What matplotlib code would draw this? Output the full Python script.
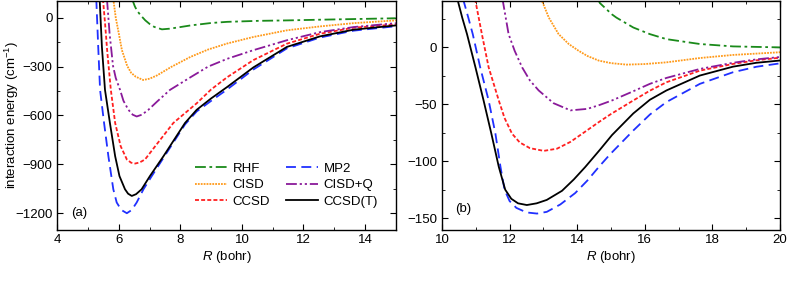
#!/usr/bin/env python3
# -*- coding: utf-8 -*-
"""
Potential energy curves: interaction energy vs R for several methods
(a) short range, (b) long range
"""

import matplotlib
matplotlib.use('Agg')
import matplotlib.pyplot as plt
from matplotlib.ticker import MultipleLocator

plt.rcParams['font.family'] = ['Liberation Sans', 'DejaVu Sans']
plt.rcParams['mathtext.fontset'] = 'custom'
plt.rcParams['mathtext.it'] = 'Liberation Sans:italic'
plt.rcParams['mathtext.rm'] = 'Liberation Sans'
plt.rcParams['font.size'] = 9.5

# ---- panel (a) data: R (bohr), energy (cm^-1) ----
a_rhf_r = [6.40, 6.46, 6.52, 6.59, 6.70, 6.86, 7.00, 7.15, 7.40, 7.65, 7.90, 8.33, 9.00, 9.52, 10.5, 11.5, 12.5, 13.6, 15.0]
a_rhf_e = [140, 100, 70, 44, 17, -16, -38, -56, -71, -67, -60, -47, -32, -25, -19, -16, -12, -8, -3]

a_mp2_r = [5.22, 5.27, 5.33, 5.39, 5.52, 5.66, 5.82, 5.93, 6.08, 6.26, 6.42, 6.58, 6.80, 7.07, 7.45, 8.15, 8.53, 9.00, 9.52, 10.37, 11.46, 12.54, 13.63, 15.0]
a_mp2_e = [200, 100, -180, -443, -646, -850, -1053, -1134, -1180, -1200, -1180, -1134, -1053, -972, -860, -655, -575, -510, -440, -318, -188, -121, -79, -52]

a_cisd_r = [5.80, 5.83, 5.90, 6.00, 6.10, 6.27, 6.40, 6.55, 6.79, 7.00, 7.24, 7.70, 8.33, 8.90, 9.52, 10.37, 11.46, 12.54, 13.63, 15.0]
a_cisd_e = [200, 100, 0, -98, -199, -295, -338, -362, -382, -374, -354, -302, -240, -195, -158, -118, -77, -53, -33, -16]

a_cisdq_r = [5.58, 5.62, 5.70, 5.81, 5.90, 6.04, 6.15, 6.31, 6.45, 6.58, 6.75, 6.96, 7.24, 7.66, 8.33, 8.90, 9.52, 10.37, 11.46, 12.54, 13.63, 15.0]
a_cisdq_e = [200, 100, -98, -295, -370, -443, -510, -565, -595, -606, -595, -565, -515, -443, -365, -300, -252, -199, -138, -88, -57, -33]

a_ccsd_r = [5.45, 5.49, 5.55, 5.62, 5.74, 5.88, 6.06, 6.26, 6.40, 6.53, 6.68, 6.85, 7.18, 7.77, 8.53, 9.00, 9.52, 10.37, 11.46, 12.54, 13.63, 15.0]
a_ccsd_e = [200, 100, -30, -200, -443, -646, -789, -870, -890, -895, -888, -870, -789, -646, -525, -440, -365, -260, -159, -98, -61, -41]

a_ccsdt_r = [5.34, 5.38, 5.45, 5.55, 5.71, 5.88, 6.02, 6.20, 6.30, 6.42, 6.56, 6.74, 7.01, 7.45, 8.15, 8.53, 9.00, 9.52, 10.37, 11.46, 12.54, 13.63, 15.0]
a_ccsdt_e = [200, 100, -180, -443, -646, -850, -972, -1053, -1080, -1094, -1083, -1053, -972, -850, -646, -565, -495, -425, -305, -179, -114, -73, -47]

# ---- panel (b) data ----
b_rhf_r = [14.50, 14.67, 15.03, 15.16, 15.66, 16.15, 16.64, 17.63, 18.61, 19.90, 20.0]
b_rhf_e = [50, 39, 29, 26.2, 17.5, 11.7, 7.3, 3.0, 0.9, 0.1, 0.0]

b_mp2_r = [10.58, 10.64, 10.78, 10.91, 11.13, 11.38, 11.58, 11.73, 11.85, 12.00, 12.20, 12.50, 12.81, 13.10, 13.50, 13.94, 14.30, 14.64, 14.97, 15.66, 16.15, 16.64, 17.63, 18.61, 19.30, 20.0]
b_mp2_e = [60, 40.8, 26, 11.7, -17.5, -46.6, -75.7, -104.9, -125, -135, -141, -145, -146, -144.5, -138, -128, -117, -105, -94, -73, -59, -48, -32, -21.8, -17, -14]

b_cisd_r = [12.85, 12.96, 13.16, 13.45, 13.75, 14.04, 14.30, 14.64, 15.00, 15.46, 16.00, 16.64, 17.63, 18.61, 19.90, 20.0]
b_cisd_e = [50, 40.8, 26.2, 11.7, 3.0, -2.9, -7.5, -11.6, -13.8, -15.1, -14.6, -13.1, -9.3, -6.6, -4.4, -4.2]

b_cisdq_r = [11.72, 11.80, 11.97, 12.15, 12.37, 12.60, 12.86, 13.30, 13.80, 14.30, 14.67, 15.03, 15.66, 16.15, 16.64, 17.63, 18.61, 19.30, 20.0]
b_cisdq_e = [60, 40.8, 11.7, -3, -17.5, -29, -37.8, -49, -55.3, -54, -50.5, -46.6, -38.5, -32, -26.8, -18.9, -13.5, -10.5, -8.4]

b_ccsd_r = [10.92, 10.99, 11.18, 11.38, 11.68, 11.85, 12.07, 12.30, 12.60, 13.01, 13.40, 13.80, 14.14, 14.67, 15.00, 15.66, 16.15, 16.64, 17.63, 18.61, 19.30, 20.0]
b_ccsd_e = [60, 40.8, 11.7, -17.5, -46.6, -62, -75.7, -83.5, -88.5, -90.9, -89, -83, -76, -65, -58.5, -46.6, -38, -30.6, -20.4, -14.5, -11.3, -9.0]

b_ccsdt_r = [10.40, 10.47, 10.60, 10.74, 10.99, 11.23, 11.46, 11.68, 11.87, 12.05, 12.25, 12.51, 12.80, 13.10, 13.55, 13.90, 14.24, 14.67, 15.03, 15.66, 16.15, 16.64, 17.63, 18.61, 19.30, 20.0]
b_ccsdt_e = [60, 40.8, 26, 11.7, -17.5, -46.6, -75.7, -104.9, -125, -133, -137, -138.5, -137, -134, -126, -116, -105, -90, -77, -58, -46, -37.8, -24.7, -16.9, -13.5, -11.5]

# 图例顺序: 两列, 按列填充
methods = ['RHF', 'CISD', 'CCSD', 'MP2', 'CISD+Q', 'CCSD(T)']
colors = {'RHF': '#1a8a1a', 'CISD': '#ff9a1a', 'CCSD': '#ff2020',
          'MP2': '#2030ff', 'CISD+Q': '#8a1a9a', 'CCSD(T)': 'black'}
styles = {'RHF': (0, (6, 2, 1.5, 2)),
          'CISD': (0, (1, 0.6)),
          'CCSD': (0, (2.2, 1.2)),
          'MP2': (0, (5.5, 3)),
          'CISD+Q': (0, (6, 1.6, 1.2, 1.6, 1.2, 1.6)),
          'CCSD(T)': '-'}

panel_a = {'RHF': (a_rhf_r, a_rhf_e), 'CISD': (a_cisd_r, a_cisd_e),
           'CCSD': (a_ccsd_r, a_ccsd_e), 'MP2': (a_mp2_r, a_mp2_e),
           'CISD+Q': (a_cisdq_r, a_cisdq_e), 'CCSD(T)': (a_ccsdt_r, a_ccsdt_e)}
panel_b = {'RHF': (b_rhf_r, b_rhf_e), 'CISD': (b_cisd_r, b_cisd_e),
           'CCSD': (b_ccsd_r, b_ccsd_e), 'MP2': (b_mp2_r, b_mp2_e),
           'CISD+Q': (b_cisdq_r, b_cisdq_e), 'CCSD(T)': (b_ccsdt_r, b_ccsdt_e)}

fig = plt.figure(figsize=(7.89, 2.85), dpi=100)
ax1 = fig.add_axes([57.3 / 789, 55.5 / 285, 338.5 / 789, 228.5 / 285])
ax2 = fig.add_axes([442 / 789, 55.5 / 285, 338 / 789, 228.5 / 285])

for ax, data in ((ax1, panel_a), (ax2, panel_b)):
    for m in methods:
        r, e = data[m]
        ax.plot(r, e, color=colors[m], linestyle=styles[m], linewidth=1.3, label=m)
    ax.tick_params(which='both', direction='in', top=True, right=True, labelsize=9.5)
    ax.tick_params(which='major', length=4)
    ax.tick_params(which='minor', length=2.5)
    ax.xaxis.set_minor_locator(MultipleLocator(1))
    ax.set_xlabel('$R$ (bohr)', fontsize=9.5, labelpad=2)
    for s in ax.spines.values():
        s.set_linewidth(1.0)

ax1.set_xlim(4, 15)
ax1.set_ylim(-1300, 103)
ax1.xaxis.set_major_locator(MultipleLocator(2))
ax1.yaxis.set_major_locator(MultipleLocator(300))
ax1.yaxis.set_minor_locator(MultipleLocator(150))
ax1.set_ylabel('interaction energy (cm$^{-1}$)', fontsize=9.5)
ax1.yaxis.set_label_coords(-0.106, 0.5)
ax1.text(4.45, -1200, '(a)', fontsize=9.5, va='center')
ax1.legend(ncol=2, loc='lower right', bbox_to_anchor=(0.947, 0.095), frameon=False,
           fontsize=9.5, handlelength=2.4, handletextpad=0.45, columnspacing=1.2,
           labelspacing=0.32, borderaxespad=0, borderpad=0)

ax2.set_xlim(10, 20)
ax2.set_ylim(-160, 40.8)
ax2.xaxis.set_major_locator(MultipleLocator(2))
ax2.yaxis.set_major_locator(MultipleLocator(50))
ax2.yaxis.set_minor_locator(MultipleLocator(25))
ax2.text(10.4, -142, '(b)', fontsize=9.5, va='center')

plt.savefig('out.png', dpi=100)
plt.close()
